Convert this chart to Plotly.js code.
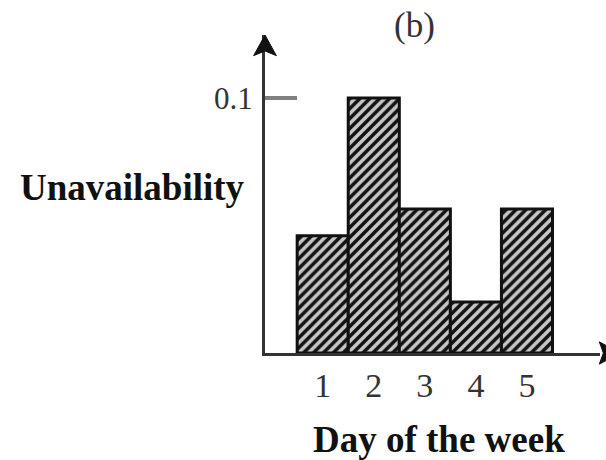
<!DOCTYPE html>
<html>
<head>
<meta charset="utf-8">
<script src="https://cdn.plot.ly/plotly-3.0.1.min.js"></script>
<style>html,body{margin:0;padding:0;background:#fff;}#chart{width:606px;height:460px;}</style>
</head>
<body>
<div id="chart"></div>
<script>
const days = [1, 2, 3, 4, 5];
const dayLabels = ['1', '2', '3', '4', '5'];
const unavailability = [0.046, 0.1, 0.0565, 0.02, 0.0565];
const yTickVals = [0.1];
const yTickText = ['0.1'];

const serif = '"Liberation Serif", "Times New Roman", serif';

const trace = {
  type: 'bar',
  x: days,
  y: unavailability,
  width: 1,
  marker: {
    color: '#c8c8c8',
    line: {color: '#111', width: 3},
    pattern: {shape: '/', fgcolor: '#111', bgcolor: '#c8c8c8', size: 7, solidity: 0.5}
  },
  hoverinfo: 'none'
};

const layout = {
  width: 606, height: 460,
  margin: {l: 265, r: 6, t: 35, b: 107, pad: 0},
  paper_bgcolor: '#fff', plot_bgcolor: '#fff',
  showlegend: false,
  bargap: 0,
  font: {family: serif, color: '#222'},
  xaxis: {
    range: [-0.13, 6.43],
    tickvals: days, ticktext: dayLabels,
    ticks: '', showgrid: false, zeroline: false,
    showline: true, linecolor: '#333', linewidth: 3,
    tickfont: {family: serif, size: 34, color: '#333'},
    ticklabelstandoff: 0
  },
  yaxis: {
    range: [0, 0.1247],
    tickvals: yTickVals, ticktext: yTickText,
    ticks: 'inside', ticklen: 32, tickwidth: 4, tickcolor: '#808080',
    showgrid: false, zeroline: false,
    showline: true, linecolor: '#333', linewidth: 3,
    tickfont: {family: serif, size: 31, color: '#333'},
    ticklabelstandoff: 3
  },
  shapes: [
    {type: 'path', xref: 'paper', yref: 'paper', path: 'M 0 1 L -0.034 0.935 L 0 0.95 L 0.034 0.935 Z', fillcolor: '#111', line: {color: '#111', width: 1}},
    {type: 'path', xref: 'paper', yref: 'paper', path: 'M 1.06 0 L 0.998 0.035 L 1.01 0 L 0.998 -0.035 Z', fillcolor: '#111', line: {color: '#111', width: 1}}
  ],
  annotations: [
    {text: '(b)', xref: 'paper', yref: 'paper', x: (414 - 265) / 335, y: 1 + (35 - 25) / 318, xanchor: 'center', yanchor: 'middle', showarrow: false, font: {family: serif, size: 35, color: '#333'}},
    {text: '<b>Unavailability</b>', xref: 'paper', yref: 'paper', x: (132 - 265) / 335, y: (353 - 187) / 318, xanchor: 'center', yanchor: 'middle', showarrow: false, font: {family: serif, size: 37, color: '#111'}},
    {text: '<b>Day of the week</b>', xref: 'paper', yref: 'paper', x: (439 - 265) / 335, y: -(439 - 353) / 318, xanchor: 'center', yanchor: 'middle', showarrow: false, font: {family: serif, size: 37, color: '#111'}}
  ]
};

Plotly.newPlot('chart', [trace], layout, {displayModeBar: false, staticPlot: true});
</script>
</body>
</html>
